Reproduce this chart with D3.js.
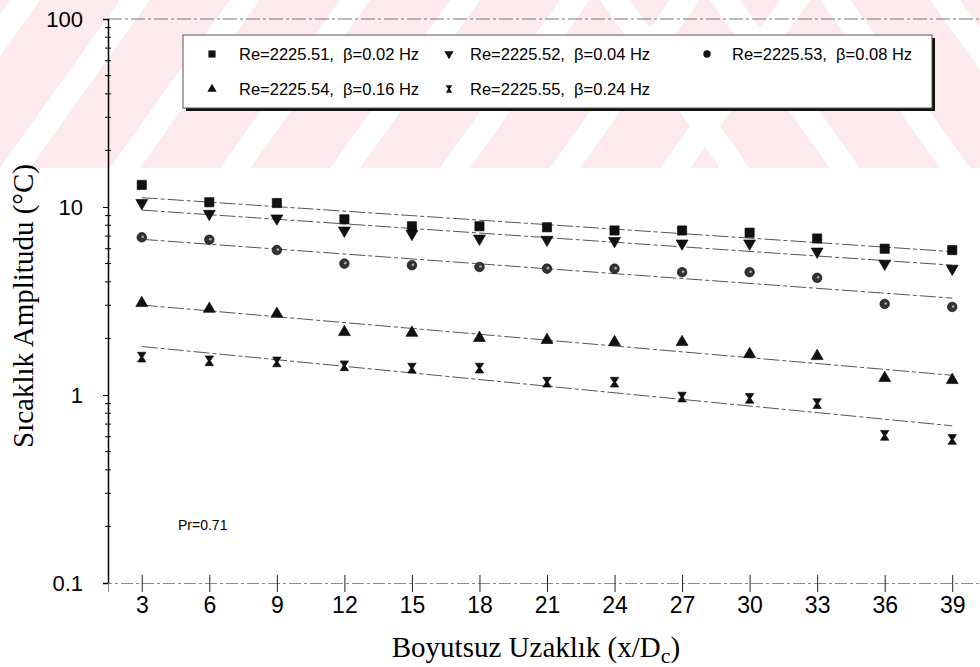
<!DOCTYPE html>
<html>
<head>
<meta charset="utf-8">
<script src="https://cdn.jsdelivr.net/npm/d3@7"></script>
<style>
  body { margin: 0; background: #fff; }
  .tick text { font-family: "Liberation Sans", Arial, sans-serif; }
</style>
</head>
<body>
<div id="chart"></div>
<script>
// x/Dc positions
var distances = [3, 6, 9, 12, 15, 18, 21, 24, 27, 30, 33, 36, 39];

// temperature amplitude (°C)
var amp002 = [13.1, 10.6, 10.5, 8.6, 7.9, 7.9, 7.8, 7.5, 7.5, 7.3, 6.8, 6.0, 5.9];
var amp004 = [10.5, 9.2, 8.7, 7.5, 7.2, 6.8, 6.7, 6.6, 6.4, 6.4, 5.8, 5.0, 4.7];
var amp008 = [6.9, 6.7, 5.9, 5.0, 4.9, 4.8, 4.7, 4.7, 4.5, 4.5, 4.2, 3.05, 2.94];
var amp016 = [3.08, 2.87, 2.70, 2.16, 2.14, 2.01, 1.96, 1.91, 1.91, 1.65, 1.61, 1.23, 1.20];
var amp024 = [1.59, 1.52, 1.50, 1.43, 1.39, 1.39, 1.17, 1.17, 0.975, 0.96, 0.90, 0.61, 0.58];

var reynolds = ["2225.51", "2225.52", "2225.53", "2225.54", "2225.55"];
var freqs = ["0.02", "0.04", "0.08", "0.16", "0.24"];

var xTicks = distances;
var yTicks = [0.1, 1, 10, 100];
var yTickLabels = ["0.1", "1", "10", "100"];

var width = 980, height = 667;
var margin = {top: 19, left: 108, bottom: 84};

var x = d3.scaleLinear()
          .domain([1.5, 40.5])
          .range([margin.left, 986]);

var y = d3.scaleLog()
          .domain([0.1, 100])
          .range([height - margin.bottom, margin.top]);

var hourglass = {
    draw: function(ctx, size) {
        var w = Math.sqrt(size) / 2, h = w * 1.15;
        ctx.moveTo(-w, -h);
        ctx.lineTo(w, -h);
        ctx.lineTo(w * 0.25, 0);
        ctx.lineTo(w, h);
        ctx.lineTo(-w, h);
        ctx.lineTo(-w * 0.25, 0);
        ctx.closePath();
    }
};

var series = [
    {values: amp002, shape: d3.symbolSquare, size: 85, rot: 0},
    {values: amp004, shape: d3.symbolTriangle, size: 62, rot: 180},
    {values: amp008, shape: d3.symbolCircle, size: 72, rot: 0},
    {values: amp016, shape: d3.symbolTriangle, size: 62, rot: 0},
    {values: amp024, shape: hourglass, size: 72, rot: 0}
];

var svg = d3.select("#chart")
            .append("svg")
            .attr("width", width)
            .attr("height", height);

// faint red watermark band across the top of the scan
var wm = svg.append("g").attr("opacity", 0.6);
wm.append("clipPath").attr("id", "wmclip")
  .append("rect").attr("width", width).attr("height", 168);
var stripes = wm.append("g").attr("clip-path", "url(#wmclip)");
stripes.append("rect")
       .attr("width", width).attr("height", 168)
       .attr("fill", "#fbdde2");
d3.range(-2, 7).forEach(function(i) {
    var x0 = i * 110;
    stripes.append("path")
           .attr("d", "M" + x0 + ",168 L" + (x0 + 30) + ",168 L" + (x0 + 150) + ",0 L" + (x0 + 120) + ",0 Z")
           .attr("fill", "#fff");
});
d3.range(0, 5).forEach(function(i) {
    var x0 = 600 + i * 110;
    stripes.append("path")
           .attr("d", "M" + x0 + ",0 L" + (x0 + 30) + ",0 L" + (x0 + 150) + ",168 L" + (x0 + 120) + ",168 Z")
           .attr("fill", "#fff");
});

// top frame line
svg.append("line")
   .attr("x1", x(1.5)).attr("x2", x(40.5))
   .attr("y1", y(100)).attr("y2", y(100))
   .attr("stroke", "#777")
   .attr("stroke-width", 1)
   .attr("stroke-dasharray", "14,3,3,3");

// y axis
var yAxis = svg.append("g")
               .attr("transform", "translate(" + margin.left + ",0)")
               .call(d3.axisLeft(y)
                       .tickValues(yTicks)
                       .tickFormat(function(d, i) { return yTickLabels[i]; })
                       .tickSize(5)
                       .tickPadding(20));
yAxis.select(".domain").attr("stroke", "#000").attr("stroke-width", 1.5);
yAxis.selectAll(".tick text").attr("font-size", 22).attr("fill", "#000");

var minors = [];
[0.1, 1, 10].forEach(function(d) {
    d3.range(2, 10).forEach(function(m) { minors.push(d * m); });
});
svg.append("g")
   .selectAll("line")
   .data(minors)
   .enter()
   .append("line")
   .attr("x1", margin.left - 3).attr("x2", margin.left + 3)
   .attr("y1", d => y(d)).attr("y2", d => y(d))
   .attr("stroke", "#000");

// x axis
var xAxis = svg.append("g")
               .attr("transform", "translate(0," + y(0.1) + ")")
               .call(d3.axisBottom(x)
                       .tickValues(xTicks)
                       .tickSize(9)
                       .tickPadding(5));
xAxis.select(".domain")
     .attr("stroke", "#888")
     .attr("stroke-dasharray", "12,3,3,3");
xAxis.selectAll(".tick line").attr("y1", -8).attr("stroke", "#222");
xAxis.selectAll(".tick text").attr("font-size", 23).attr("fill", "#000");

// axis titles
var xTitle = svg.append("text")
                .attr("x", 536)
                .attr("y", 657)
                .attr("text-anchor", "middle")
                .attr("font-family", "Liberation Serif, Times New Roman, serif")
                .attr("font-size", 29);
xTitle.append("tspan").text("Boyutsuz Uzaklık (x/D");
xTitle.append("tspan").attr("font-size", 22).attr("dy", 6).text("c");
xTitle.append("tspan").attr("dy", -6).text(")");

svg.append("text")
   .attr("transform", "translate(33,306) rotate(-90)")
   .attr("text-anchor", "middle")
   .attr("font-family", "Liberation Serif, Times New Roman, serif")
   .attr("font-size", 29)
   .text("Sıcaklık Amplitudu (°C)");

svg.append("text")
   .attr("x", 178)
   .attr("y", 530)
   .attr("font-family", "Liberation Sans, Arial, sans-serif")
   .attr("font-size", 14)
   .text("Pr=0.71");

// exponential trend lines (least squares on log10)
function fit(vals) {
    var ly = vals.map(v => Math.log10(v));
    var mx = d3.mean(distances), my = d3.mean(ly);
    var sxy = d3.sum(distances, (d, i) => (d - mx) * (ly[i] - my));
    var sxx = d3.sum(distances, d => (d - mx) * (d - mx));
    var b = sxy / sxx;
    return function(xv) { return Math.pow(10, my + b * (xv - mx)); };
}

var line = d3.line()
             .x(d => x(d[0]))
             .y(d => y(d[1]));

series.forEach(function(s) {
    var f = fit(s.values);
    var ends = [distances[0], distances[distances.length - 1]];
    svg.append("path")
       .datum(ends.map(d => [d, f(d)]))
       .attr("d", line)
       .attr("fill", "none")
       .attr("stroke", "#555")
       .attr("stroke-width", 1)
       .attr("stroke-dasharray", "16,3,4,3");
});

// markers
series.forEach(function(s, k) {
    var sym = d3.symbol().type(s.shape).size(s.size);
    svg.append("g")
       .selectAll("path")
       .data(s.values)
       .enter()
       .append("path")
       .attr("d", sym)
       .attr("transform", (d, i) => "translate(" + x(distances[i]) + "," + y(d) + ") rotate(" + s.rot + ")")
       .attr("fill", k === 2 ? "#333" : "#111")
       .attr("stroke", "#000")
       .attr("stroke-width", 0.6);
    if (k === 2) {
        svg.append("g")
           .selectAll("circle")
           .data(s.values)
           .enter()
           .append("circle")
           .attr("cx", (d, i) => x(distances[i]) + 1)
           .attr("cy", d => y(d) - 0.5)
           .attr("r", 1.3)
           .attr("fill", "#aaa");
    }
});

// legend
var legend = svg.append("g");
legend.append("rect")
      .attr("x", 186).attr("y", 38)
      .attr("width", 749).attr("height", 73)
      .attr("fill", "#111");
legend.append("rect")
      .attr("x", 183).attr("y", 35)
      .attr("width", 749).attr("height", 73)
      .attr("fill", "#fff")
      .attr("stroke", "#555")
      .attr("stroke-width", 1);

var legSymX = [212, 449, 707];
var legTextX = [239, 470, 732];
var legRowY = [54, 89];

series.forEach(function(s, k) {
    var col = k % 3, row = Math.floor(k / 3);
    var sym = d3.symbol().type(s.shape).size(s.size * 0.6);
    legend.append("path")
          .attr("d", sym)
          .attr("transform", "translate(" + legSymX[col] + "," + legRowY[row] + ") rotate(" + s.rot + ")")
          .attr("fill", "#111");
    legend.append("text")
          .attr("x", legTextX[col])
          .attr("y", legRowY[row] + 6)
          .attr("font-family", "Liberation Sans, Arial, sans-serif")
          .attr("font-size", 16.5)
          .style("white-space", "pre")
          .text("Re=" + reynolds[k] + ",  \u03b2=" + freqs[k] + " Hz");
});
</script>
</body>
</html>
